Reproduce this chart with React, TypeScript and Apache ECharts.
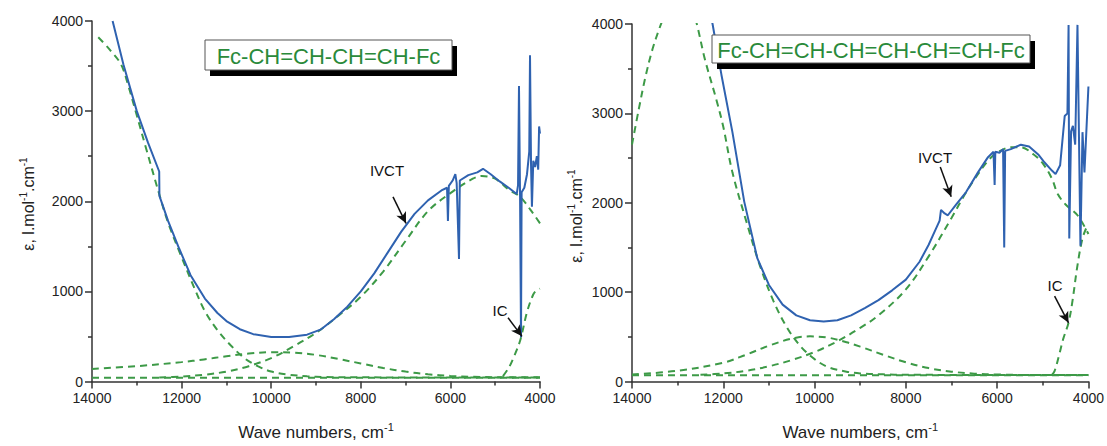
import React, { useEffect, useRef } from "react";
import * as echarts from "echarts";

const FONT = "Liberation Sans, Arial, sans-serif";
const BLUE = "#2f62b0";
const GREEN = "#3d9a47";

// x tick labels are produced by the axis (4000..14000 step 2000); y ticks 0..4000 step 1000
const xTicks = [4000, 6000, 8000, 10000, 12000, 14000];
const yTicks = [0, 1000, 2000, 3000, 4000];

// ---------- Left panel: Fc-CH=CH-CH=CH-Fc ----------
const leftMeasured: number[][] = [
  [13540, 4000], [13300, 3520], [13000, 3000], [12750, 2650], [12500, 2330], [12495, 2060],
  [12300, 1780], [12050, 1470], [11800, 1180], [11480, 920], [11200, 760], [11000, 670],
  [10700, 580], [10400, 525], [10000, 495], [9600, 495], [9200, 520], [8900, 575],
  [8600, 690], [8300, 830], [8000, 1000], [7700, 1200], [7400, 1430], [7100, 1660],
  [6800, 1860], [6500, 2010], [6200, 2120], [6075, 2150], [6055, 1780], [6035, 2170],
  [5950, 2230], [5890, 2300], [5860, 2200], [5808, 1360], [5790, 2230], [5600, 2290],
  [5400, 2320], [5272, 2360], [5100, 2300], [4900, 2220], [4700, 2150], [4520, 2080],
  [4490, 2180], [4469, 3280], [4445, 2050], [4424, 490], [4410, 2100], [4350, 2150],
  [4290, 2300], [4240, 2550], [4223, 3620], [4200, 2400], [4180, 1940], [4150, 2450],
  [4110, 2380], [4070, 2500], [4040, 2350], [4020, 2830], [4000, 2750],
];
const leftBandHigh: number[][] = [
  [13860, 3820], [13600, 3680], [13353, 3520], [13200, 3300], [13007, 2965], [12800, 2600],
  [12500, 2080], [12300, 1760], [12000, 1380], [11700, 1020], [11480, 780], [11200, 570],
  [10900, 400], [10600, 260], [10300, 170], [10000, 110], [9600, 75], [9200, 58],
  [8800, 50], [8000, 46], [4000, 45],
];
const leftBandBroad: number[][] = [
  [14000, 140], [13000, 170], [12000, 215], [11500, 245], [11000, 280], [10500, 310],
  [10000, 325], [9500, 320], [9000, 295], [8500, 250], [8000, 200], [7500, 150],
  [7000, 110], [6500, 80], [6000, 62], [5500, 52], [5000, 48], [4000, 46],
];
const leftIVCT: number[][] = [
  [12500, 45], [12000, 55], [11500, 75], [11000, 110], [10500, 170], [10000, 260],
  [9500, 390], [9000, 540], [8500, 730], [8000, 940], [7500, 1220], [7000, 1560],
  [6500, 1890], [6000, 2090], [5500, 2250], [5300, 2280], [5000, 2250], [4700, 2130],
  [4446, 2050], [4220, 1910], [4000, 1755],
];
const leftIC: number[][] = [
  [4826, 60], [4700, 150], [4603, 250], [4446, 450], [4290, 770], [4156, 960],
  [4080, 1010], [4000, 1030],
];
const leftBase: number[][] = [[14000, 42], [4000, 42]];

// ---------- Right panel: Fc-CH=CH-CH=CH-CH=CH-Fc ----------
const rightMeasured: number[][] = [
  [12400, 4400], [12235, 4000], [12040, 3430], [11800, 2790], [11540, 2010], [11255, 1380],
  [11000, 1080], [10700, 860], [10400, 740], [10100, 685], [9800, 670], [9500, 685],
  [9200, 740], [8900, 820], [8600, 910], [8300, 1020], [8000, 1140], [7700, 1340],
  [7500, 1530], [7350, 1700], [7260, 1800], [7230, 1920], [7150, 1880], [7080, 1860],
  [6900, 1980], [6680, 2120], [6420, 2340], [6200, 2510], [6080, 2570], [6055, 2200],
  [6040, 2570], [5950, 2560], [5870, 2600], [5845, 1500], [5825, 2580], [5700, 2600],
  [5480, 2650], [5300, 2630], [5100, 2540], [4960, 2450], [4800, 2360], [4720, 2320],
  [4620, 2420], [4520, 2970], [4460, 3000], [4435, 3990], [4420, 1600], [4380, 2800],
  [4340, 2860], [4290, 2650], [4240, 3990], [4175, 1520], [4130, 2790], [4087, 2340],
  [4000, 3300],
];
const rightBandHigh: number[][] = [
  [14000, 2650], [13850, 3050], [13700, 3420], [13550, 3720], [13400, 3950], [13250, 4150],
  [13100, 4350], [12930, 4420], [12750, 4300], [12580, 4000], [12400, 3600], [12150, 3150],
  [12000, 2850], [11800, 2340], [11500, 1800], [11200, 1300], [10900, 900], [10600, 600],
  [10300, 390], [10000, 250], [9700, 160], [9300, 110], [9000, 90], [8500, 80],
  [8000, 75], [4000, 72],
];
const rightBandBroad: number[][] = [
  [14000, 78], [13000, 120], [12000, 210], [11500, 300], [11000, 400], [10500, 480],
  [10100, 505], [9700, 490], [9300, 440], [9000, 390], [8500, 300], [8000, 215],
  [7500, 150], [7000, 110], [6500, 88], [6000, 78], [5000, 72], [4000, 72],
];
const rightIVCT: number[][] = [
  [12500, 75], [12000, 90], [11500, 120], [11000, 170], [10500, 240], [10000, 330],
  [9500, 450], [9000, 600], [8600, 740], [8000, 1030], [7500, 1400], [7000, 1830],
  [6700, 2100], [6500, 2260], [6200, 2470], [6000, 2560], [5700, 2620], [5480, 2620],
  [5200, 2540], [5000, 2440], [4800, 2270], [4675, 2100], [4500, 1980], [4240, 1860],
  [4000, 1650],
];
const rightIC: number[][] = [
  [4800, 75], [4740, 120], [4650, 280], [4550, 480], [4435, 660], [4350, 900],
  [4240, 1300], [4130, 1600], [4020, 1750], [4000, 1760],
];
const rightBase: number[][] = [[14000, 70], [4000, 70]];

// arrow annotations (data coordinates: start -> end)
const leftArrows: number[][][] = [
  [[7281, 2049], [6991, 1755]],
  [[4714, 708], [4402, 501]],
];
const rightArrows: number[][][] = [
  [[7246, 2400], [7007, 2067]],
  [[4741, 956], [4436, 656]],
];

const titleLeft = "Fc-CH=CH-CH=CH-Fc";
const titleRight = "Fc-CH=CH-CH=CH-CH=CH-Fc";

function makeAxes(gridIndex: number) {
  const label = { fontFamily: FONT, fontSize: 14, color: "#222", formatter: (v: number) => String(v) };
  return {
    x: {
      type: "value",
      gridIndex,
      min: xTicks[0],
      max: xTicks[xTicks.length - 1],
      interval: 2000,
      inverse: true,
      name: "{a|Wave numbers, cm}{s|-1}",
      nameLocation: "middle",
      nameGap: 40,
      nameTextStyle: {
        rich: {
          a: { fontFamily: FONT, fontSize: 17, color: "#222", lineHeight: 22 },
          s: { fontFamily: FONT, fontSize: 11, color: "#222", verticalAlign: "top", lineHeight: 22 },
        },
      },
      axisLine: { show: true, onZero: false, lineStyle: { color: "#333", width: 1.5 } },
      axisTick: { show: true, length: 7, lineStyle: { color: "#333", width: 1.5 } },
      minorTick: { show: true, splitNumber: 2, length: 4, lineStyle: { color: "#333", width: 1.5 } },
      splitLine: { show: false },
      axisLabel: { ...label, margin: 9 },
    },
    y: {
      type: "value",
      gridIndex,
      min: yTicks[0],
      max: yTicks[yTicks.length - 1],
      interval: 1000,
      axisLine: { show: true, onZero: false, lineStyle: { color: "#333", width: 1.5 } },
      axisTick: { show: true, length: 7, lineStyle: { color: "#333", width: 1.5 } },
      minorTick: { show: true, splitNumber: 2, length: 4, lineStyle: { color: "#333", width: 1.5 } },
      splitLine: { show: false },
      axisLabel: { ...label, margin: 9 },
    },
  };
}

function dashed(data: number[][], idx: number, extra: any = {}) {
  return {
    type: "line",
    xAxisIndex: idx,
    yAxisIndex: idx,
    data,
    showSymbol: false,
    smooth: 0.35,
    clip: true,
    lineStyle: { color: GREEN, width: 2, type: [7, 5] },
    z: 2,
    ...extra,
  };
}

function solid(data: number[][], idx: number) {
  return {
    type: "line",
    xAxisIndex: idx,
    yAxisIndex: idx,
    data,
    showSymbol: false,
    smooth: false,
    clip: true,
    lineStyle: { color: BLUE, width: 2 },
    z: 3,
  };
}

function arrows(list: number[][][]) {
  return {
    silent: true,
    symbol: ["none", "arrow"],
    symbolSize: [8, 11],
    label: { show: false },
    lineStyle: { color: "#111", width: 1.5, type: "solid" },
    data: list.map((a) => [{ coord: a[0] }, { coord: a[1] }]),
  };
}

function yName(x: number, y: number) {
  return {
    type: "text",
    x,
    y,
    rotation: Math.PI / 2,
    z: 50,
    style: {
      text: "{a|ε, l.mol}{s|-1}{a|.cm}{s|-1}",
      align: "center",
      verticalAlign: "middle",
      fill: "#222",
      rich: {
        a: { fontFamily: FONT, fontSize: 16, fill: "#222", lineHeight: 20 },
        s: { fontFamily: FONT, fontSize: 10, fill: "#222", verticalAlign: "top", lineHeight: 20 },
      },
    },
  };
}

function titleBox(x: number, y: number, w: number, h: number, text: string) {
  return [
    { type: "rect", z: 100, shape: { x: x + 5, y: y + 6, width: w, height: h }, style: { fill: "#000" } },
    { type: "rect", z: 101, shape: { x, y, width: w, height: h }, style: { fill: "#fff", stroke: "#555", lineWidth: 1 } },
    {
      type: "text",
      z: 102,
      x: x + w / 2,
      y: y + h / 2 + 1,
      style: { text, fill: "#2a8a3a", fontFamily: FONT, fontSize: 22, align: "center", verticalAlign: "middle" },
    },
  ];
}

function annot(x: number, y: number, text: string) {
  return {
    type: "text",
    x,
    y,
    z: 60,
    style: { text, fill: "#111", fontFamily: FONT, fontSize: 15, align: "center", verticalAlign: "middle" },
  };
}

export default function App() {
  const ref = useRef<HTMLDivElement>(null);
  useEffect(() => {
    if (!ref.current) return;
    const chart = echarts.init(ref.current, null, { renderer: "svg" });
    const a0 = makeAxes(0);
    const a1 = makeAxes(1);
    chart.setOption({
      animation: false,
      backgroundColor: "#fff",
      grid: [
        { left: 92, top: 21, width: 448, height: 367 },
        { left: 632, top: 24, width: 459, height: 360 },
      ],
      xAxis: [a0.x, a1.x],
      yAxis: [a0.y, a1.y],
      series: [
        dashed(leftBase, 0, { smooth: false, markLine: arrows(leftArrows) }),
        dashed(leftBandHigh, 0),
        dashed(leftBandBroad, 0),
        dashed(leftIVCT, 0),
        dashed(leftIC, 0),
        solid(leftMeasured, 0),
        dashed(rightBase, 1, { smooth: false, markLine: arrows(rightArrows) }),
        dashed(rightBandHigh, 1),
        dashed(rightBandBroad, 1),
        dashed(rightIVCT, 1),
        dashed(rightIC, 1),
        solid(rightMeasured, 1),
      ],
      graphic: [
        yName(28, 204),
        yName(576, 216),
        ...titleBox(205, 40, 247, 30, titleLeft),
        ...titleBox(712, 35, 318, 28, titleRight),
        annot(387, 170, "IVCT"),
        annot(500, 310, "IC"),
        annot(935, 157, "IVCT"),
        annot(1055, 285, "IC"),
      ],
    });
    return () => chart.dispose();
  }, []);
  return (
    <div
      ref={ref}
      style={{ position: "absolute", left: 0, top: 0, width: 1107, height: 446 }}
    />
  );
}
